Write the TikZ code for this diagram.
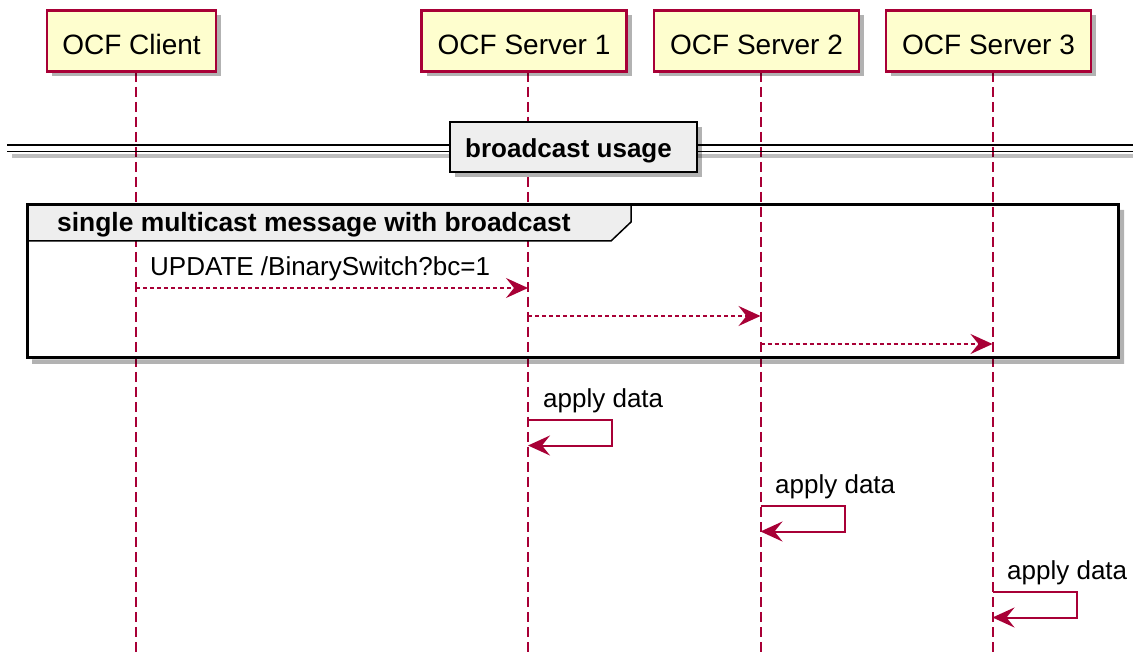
\documentclass[tikz,border=0pt]{standalone}
\usepackage{fontspec}
\setmainfont{Liberation Sans}
\usetikzlibrary{positioning}
\usetikzlibrary{arrows.meta}
\usetikzlibrary{shadows}
\definecolor{umlred}{HTML}{A80036}
\definecolor{umlfill}{HTML}{FEFECE}
\definecolor{umlgrey}{HTML}{EEEEEE}

\tikzset{
  softshadow/.style={drop shadow={shadow xshift=5pt,shadow yshift=-5pt,fill=black,opacity=0.3}},
  actor/.style={draw=umlred,fill=umlfill,line width=2.5pt,minimum height=61pt,minimum width=205pt,
    text height=28pt,text depth=0pt,font=\fontsize{28}{32}\selectfont,softshadow},
  lifeline/.style={umlred,line width=2pt,dash pattern=on 10pt off 5pt},
  msg/.style={umlred,line width=2pt,dash pattern=on 4pt off 3pt,-{Stealth[length=22pt,width=20pt,inset=8pt]}},
  selfmsg/.style={umlred,line width=2pt,-{Stealth[length=22pt,width=20pt,inset=8pt]}},
  lbl/.style={font=\fontsize{26}{30}\selectfont,anchor=base west,inner sep=0pt},
  boldlbl/.style={font=\bfseries\fontsize{26.4}{30}\selectfont,anchor=base west,inner sep=0pt}
}

\begin{document}
\begin{tikzpicture}[x=1pt,y=-1pt]

  \useasboundingbox (0,0) rectangle (1133,652);

  \coordinate (l0) at (136,72);
  \coordinate (l1) at (528,72);
  \coordinate (l2) at (760.5,72);
  \coordinate (l3) at (992.5,72);
  \coordinate (bottom) at (0,652);

  % Lifelines
  \foreach \l in {l0,l1,l2,l3}
    \draw[lifeline] (\l) -- (\l |- bottom);

  % Participants
  \node[actor,minimum width=169pt] (client) at (131.5,41) {OCF Client};
  \node[actor] (srv1) at (524,41) {OCF Server 1};
  \node[actor] (srv2) at (756.5,41) {OCF Server 2};
  \node[actor] (srv3) at (988.5,41) {OCF Server 3};

  % Divider
  \fill[black,opacity=0.25] (12,154) rectangle (1133,158);
  \draw[line width=1.8pt] (7,145) -- (1133,145) (7,151.5) -- (1133,151.5);
  \node[draw,line width=2.5pt,fill=umlgrey,minimum width=247pt,minimum height=50pt,softshadow] (div) at (573.5,147) {};
  \node[boldlbl,font=\bfseries\fontsize{26}{30}\selectfont] (divtxt) at (465,158) {broadcast usage};

  % Group frame
  \fill[black,opacity=0.3] (32,359.5) rectangle (1124,364) (1119.5,210) rectangle (1124,359.5);
  \draw[line width=3pt] (27,205) rectangle (1118,358);
  \draw[line width=1.5pt,fill=umlgrey] (27,205) -- (631,205) -- (631,222) -- (611,241) -- (27,241) -- cycle;
  \draw[line width=3pt] (27,205) -- (1118,205) (27,205) -- (27,241);
  \node[boldlbl] (grp) at (57,232) {single multicast message with broadcast};

  % Broadcast messages
  \coordinate (m1a) at (136,288);   \coordinate (m1b) at (528,288);
  \coordinate (m2a) at (528,316);   \coordinate (m2b) at (760.5,316);
  \coordinate (m3a) at (760.5,344); \coordinate (m3b) at (992.5,344);
  \node[lbl] (upd) at (150,276) {UPDATE /BinarySwitch?bc=1};
  \draw[msg] (m1a) -- (m1b);
  \draw[msg] (m2a) -- (m2b);
  \draw[msg] (m3a) -- (m3b);

  % Self messages
  \coordinate (s1) at (528,419.5);   \coordinate (s1e) at (528,445.5);
  \coordinate (s2) at (760.5,505.5); \coordinate (s2e) at (760.5,531.5);
  \coordinate (s3) at (992.5,591.5); \coordinate (s3e) at (992.5,617.5);
  \node[lbl] (ap1) at (543,407) {apply data};
  \node[lbl] (ap2) at (775,493) {apply data};
  \node[lbl] (ap3) at (1007,579) {apply data};
  \draw[selfmsg] (s1) -- ++(84,0) |- (s1e);
  \draw[selfmsg] (s2) -- ++(84,0) |- (s2e);
  \draw[selfmsg] (s3) -- ++(84,0) |- (s3e);

\end{tikzpicture}
\end{document}
